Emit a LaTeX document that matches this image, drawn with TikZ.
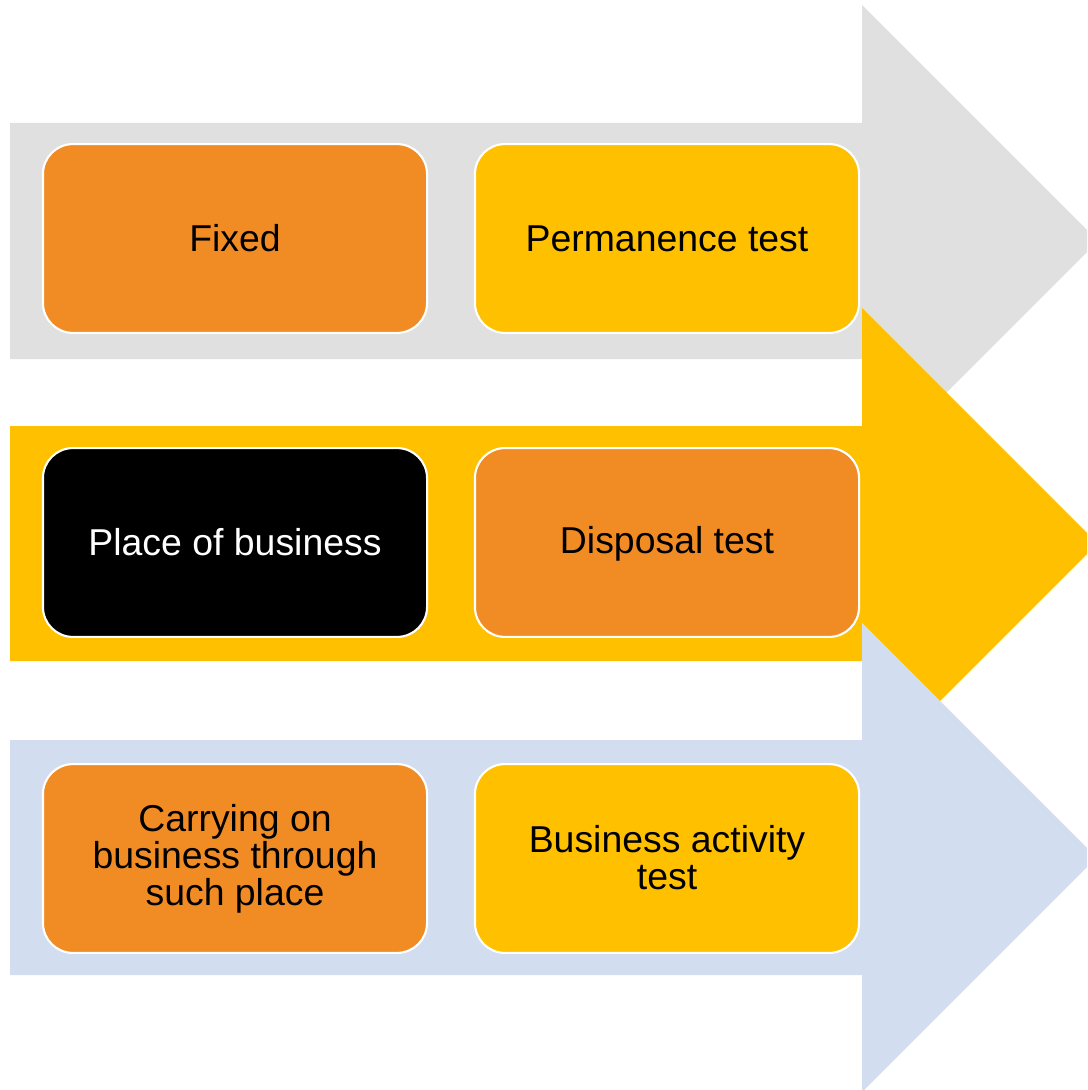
\documentclass[tikz,border=0pt]{standalone}
\usepackage{fontspec}
\setmainfont{Liberation Sans}

\definecolor{bandgrey}{HTML}{E0E0E0}
\definecolor{bandyellow}{HTML}{FFC000}
\definecolor{bandblue}{HTML}{D2DEEF}
\definecolor{tileorange}{HTML}{F18C25}

% puntello invisibile per centrare il testo nei riquadri
\newcommand{\tilestrut}{\rule[-2pt]{0pt}{23pt}}

\begin{document}
\begin{tikzpicture}[
    x=0.025cm,
    y=-0.025cm,
    band/.style={
        draw=none
    },
    tile/.style={
        rectangle,
        rounded corners=0.75cm,
        draw=white,
        line width=1.5pt,
        minimum width=9.6cm,
        minimum height=4.72cm,
        align=center,
        font=\fontsize{26.6}{26.3}\selectfont,
        execute at begin node=\tilestrut,
        execute at end node=\tilestrut
    }
]

\useasboundingbox (0,0) rectangle (1087,1090);
\clip (0,0) rectangle (1087,1090);

% Frecce di sfondo
\fill[band, bandgrey] (10,123) -- (862,123) -- (862,5) -- (1098,241)
    -- (862,477) -- (862,359) -- (10,359) -- cycle;
\fill[band, bandyellow] (10,426) -- (862,426) -- (862,308) -- (1097.5,543.5)
    -- (862,779) -- (862,661) -- (10,661) -- cycle;
\fill[band, bandblue] (10,740) -- (862,740) -- (862,623) -- (1096.5,857.5)
    -- (862,1092) -- (862,975) -- (10,975) -- cycle;

% Riquadri
\node[tile, fill=tileorange] (fixed) at (235,238.5) {Fixed};
\node[tile, fill=bandyellow] (permanence) at (667,238.5) {Permanence test};

\node[tile, fill=black, text=white] (place) at (235,542.5) {Place of business};
\node[tile, fill=tileorange] (disposal) at (667,542.5) {Disposal test};

\node[tile, fill=tileorange] (carrying) at (235,858.5) {
    Carrying on\\
    business through\\
    such place
};
\node[tile, fill=bandyellow] (activity) at (667,858.5) {
    Business activity\\
    test
};

\end{tikzpicture}
\end{document}
